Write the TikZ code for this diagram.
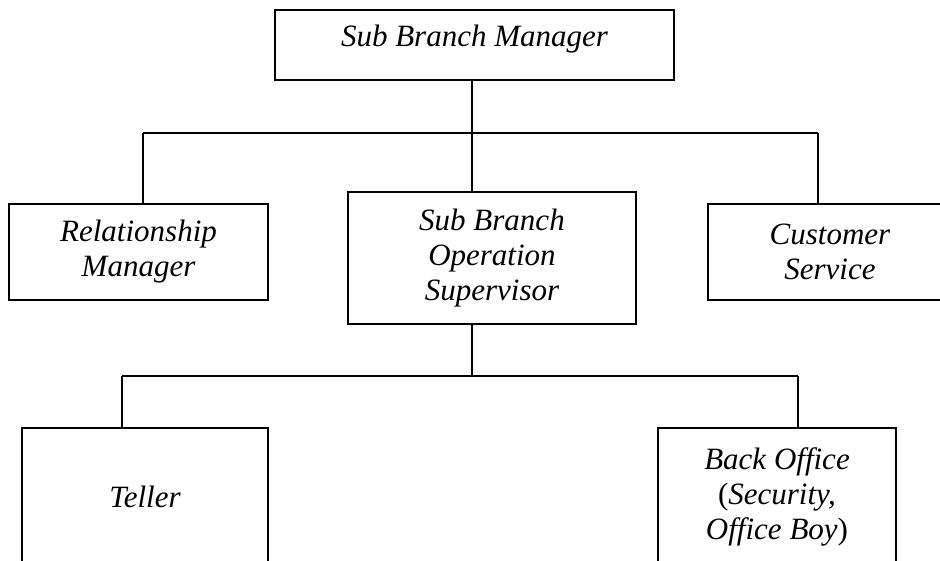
\documentclass[tikz,border=0pt]{standalone}
\usepackage{fontspec}
\setmainfont{Liberation Serif}
\begin{document}
\begin{tikzpicture}[x=1pt,y=-1pt,
  box/.style={draw=black,line width=1.9pt,rectangle,inner sep=0pt,align=center,
    font=\fontsize{31}{35}\selectfont\itshape},
  conn/.style={draw=black,line width=1.9pt}]
\clip (0,0) rectangle (940,560);
\fill[white] (0,0) rectangle (940,560);
% boxes
\node[box,minimum width=399pt,minimum height=70pt,text depth=19pt] (top) at (474.5,45) {Sub Branch Manager};
\node[box,minimum width=259pt,minimum height=96pt] (rel) at (138.5,252) {Relationship\\Manager};
\node[box,minimum width=288pt,minimum height=132pt] (sup) at (492,258) {Sub Branch\\Operation\\Supervisor};
\node[box,minimum width=244pt,minimum height=96pt] (cs) at (830,252) {Customer\\Service};
\node[box,minimum width=246pt,minimum height=137pt] (tel) at (145,496.5) {Teller};
\node[box,minimum width=238pt,minimum height=137pt] (bo) at (777,496.5) {Back Office\\\textup{(}Security,\\Office Boy\textup{)}};
% junctions
\coordinate (j1) at (472,133);
\coordinate (hl) at (143,133);
\coordinate (hr) at (818,133);
\coordinate (j2) at (472,376);
\coordinate (bl) at (122,376);
\coordinate (br) at (798,376);
% connectors
\draw[conn] (j1 |- top.south) -- (j1);
\draw[conn] (hl) -- (hr);
\draw[conn] (hl) -- (hl |- rel.north);
\draw[conn] (j1) -- (j1 |- sup.north);
\draw[conn] (hr) -- (hr |- cs.north);
\draw[conn] (j2 |- sup.south) -- (j2);
\draw[conn] (bl) -- (br);
\draw[conn] (bl) -- (bl |- tel.north);
\draw[conn] (br) -- (br |- bo.north);
\end{tikzpicture}
\end{document}
